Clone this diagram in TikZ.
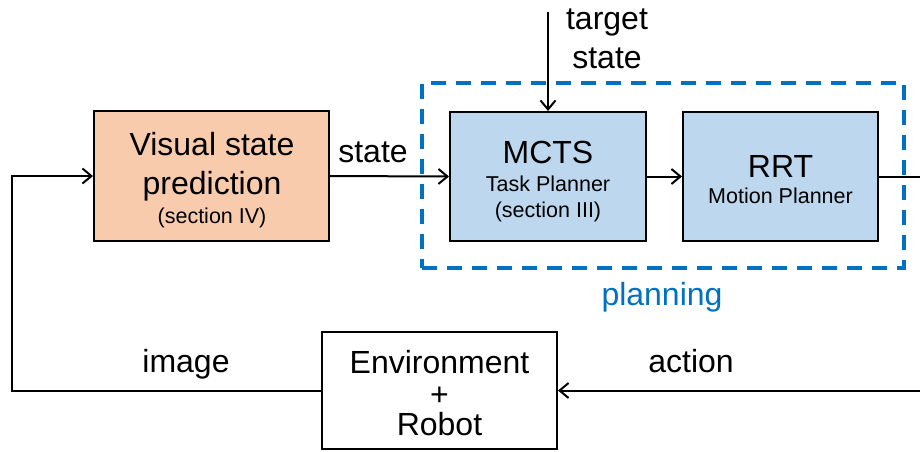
\documentclass[tikz,border=0pt]{standalone}
\usepackage{fontspec}
\setmainfont{Liberation Sans}
\usetikzlibrary{arrows.meta}
\definecolor{peach}{HTML}{F8CBAD}
\definecolor{lblue}{HTML}{BDD7EE}
\definecolor{dblue}{HTML}{0070C0}
\tikzset{
  blk/.style={draw=black, line width=2pt, inner sep=0pt, rectangle},
  big/.style={font=\fontsize{32}{38}\selectfont, inner sep=0pt, anchor=base},
  small/.style={font=\fontsize{21.5}{26}\selectfont, inner sep=0pt, anchor=base},
  conn/.style={line width=2pt, black},
  arr/.style={conn, -{Straight Barb[length=9pt,width=15pt,line width=2pt]}},
  planbox/.style={draw=dblue, line width=3.5pt, dash pattern=on 15pt off 10pt, inner sep=0pt, rectangle}
}
\begin{document}
\begin{tikzpicture}[x=1pt,y=-1pt]
\useasboundingbox (0,0) rectangle (920,451);
% boxes
\node[planbox, minimum width=482pt, minimum height=185pt] (plan) at (663,175.5) {};
\node[blk, fill=peach, minimum width=235pt, minimum height=130pt] (vis) at (211.5,176) {};
\node[blk, fill=lblue, minimum width=196pt, minimum height=129pt] (mcts) at (548,176.5) {};
\node[blk, fill=lblue, minimum width=195pt, minimum height=129pt] (rrt) at (780.5,176.5) {};
\node[blk, fill=white, minimum width=235pt, minimum height=117pt] (env) at (439.5,390.5) {};
% box texts
\node[big] (vis1) at (212,155) {Visual state};
\node[big] (vis2) at (212,194) {prediction};
\node[small] (vis3) at (212,223) {(section IV)};
\node[big] (mc1) at (548,163) {MCTS};
\node[small] (mc2) at (548,191) {Task Planner};
\node[small] (mc3) at (548,217) {(section III)};
\node[big] (rr1) at (780.5,177) {RRT};
\node[small] (rr2) at (780.5,203) {Motion Planner};
\node[big] (en1) at (439.5,373) {Environment};
\node[big] (en2) at (439.5,405) {+};
\node[big] (en3) at (439.5,435) {Robot};
% labels
\node[big] (tg1) at (607,29) {target};
\node[big] (tg2) at (607,68) {state};
\node[big, text=dblue] (pl) at (662,305) {planning};
\node[big] (st) at (373,162) {state};
\node[big] (im) at (186,372) {image};
\node[big] (ac) at (691,372) {action};
% connectors
\coordinate (tgt) at (548,12);
\coordinate (lft) at (12,0);
\coordinate (rgt) at (920,0);
\draw[arr] (tgt) -- (tgt |- mcts.north);
\draw[arr] (vis.east) -- (mcts.west);
\draw[arr] (mcts.east) -- (rrt.west);
\draw[conn] (rrt.east) -- (rrt.east -| rgt);
\draw[arr] (env.east -| rgt) -- (env.east);
\draw[arr] (env.west) -- (env.west -| lft) -- (lft |- vis.west) -- (vis.west);
\end{tikzpicture}
\end{document}
